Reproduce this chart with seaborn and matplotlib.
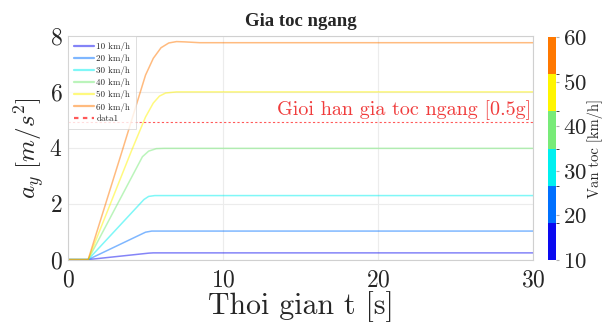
import numpy as np
import pandas as pd
import seaborn as sns
import matplotlib.pyplot as plt
from matplotlib.colors import ListedColormap, BoundaryNorm
from matplotlib.cm import ScalarMappable

# speeds (km/h) and the lateral acceleration traces
speeds = [10, 20, 30, 40, 50, 60]
t_10 = [0, 1.3, 5.2, 5.5, 30]
a_10 = [0, 0, 0.23, 0.24, 0.24]
t_20 = [0, 1.3, 5.0, 5.4, 30]
a_20 = [0, 0, 0.98, 1.02, 1.02]
t_30 = [0, 1.3, 4.9, 5.2, 5.6, 30]
a_30 = [0, 0, 2.15, 2.26, 2.29, 2.29]
t_40 = [0, 1.3, 4.8, 5.2, 5.7, 6.2, 30]
a_40 = [0, 0, 3.68, 3.88, 3.97, 3.98, 3.98]
t_50 = [0, 1.3, 4.1, 5.0, 5.5, 5.9, 6.3, 7.0, 30]
a_50 = [0, 0, 3.9, 5.1, 5.6, 5.85, 5.96, 6.0, 6.0]
t_60 = [0, 1.3, 3.5, 5.0, 5.5, 6.0, 6.5, 7.0, 7.5, 8.5, 30]
a_60 = [0, 0, 3.9, 6.6, 7.2, 7.58, 7.75, 7.8, 7.79, 7.76, 7.76]
limit = 4.905  # 0.5 g

colors = ['#0a0af0', '#0070ff', '#00f0f0', '#78eb78', '#fff500', '#ff7800']

traces = [(t_10, a_10), (t_20, a_20), (t_30, a_30), (t_40, a_40), (t_50, a_50), (t_60, a_60)]
rows = []
for v, (tt, aa) in zip(speeds, traces):
    for t, a in zip(tt, aa):
        rows.append({'t': t, 'a': a, 'speed': f'{v} km/h'})
df = pd.DataFrame(rows)

sns.set_style('white')
plt.rcParams['font.family'] = 'serif'
plt.rcParams['font.serif'] = ['cmr10', 'DejaVu Serif']
plt.rcParams['mathtext.fontset'] = 'cm'
plt.rcParams['axes.formatter.use_mathtext'] = True

fig = plt.figure(figsize=(6.03, 3.29), dpi=100)
ax = fig.add_axes([0.1128, 0.211, 0.7712, 0.6796])

sns.lineplot(data=df, x='t', y='a', hue='speed', palette=colors, alpha=0.5,
             linewidth=1.1, estimator=None, sort=False, ax=ax)
ax.axhline(limit, color='#ff3030', linestyle=(0, (2, 2)), linewidth=0.8,
           alpha=0.8, label='data1')

ax.text(29.9, 5.17, 'Gioi han gia toc ngang [0.5g]', ha='right', va='baseline',
        color='#f03c3c', fontsize=14.5)

ax.set_xlim(0, 30)
ax.set_ylim(0, 8)
ax.set_xticks([0, 10, 20, 30])
ax.set_yticks([0, 2, 4, 6, 8])
ax.grid(True, color='#ececec', linewidth=0.8)
for s in ax.spines.values():
    s.set_color('#d0d0d0')
    s.set_linewidth(0.8)
ax.tick_params(labelsize=17, direction='in', length=3, color='#b0b0b0')
ax.tick_params(axis='x', pad=7)
ax.tick_params(axis='y', pad=4)
ax.set_xlabel('Thoi gian t [s]', fontsize=21.5, labelpad=0)
ax.set_ylabel(r'$a_y\ [m/s^2]$', fontsize=18, labelpad=2)
ax.set_title('Gia toc ngang', fontsize=13.5, fontweight='bold',
             family='Liberation Serif', pad=7)

leg = ax.legend(loc='upper left', fontsize=6.5, frameon=True, handlelength=2.2,
                borderpad=0.35, labelspacing=0.35, handletextpad=0.3,
                borderaxespad=0.3)
leg.get_frame().set_edgecolor('#d0d0d0')
leg.get_frame().set_linewidth(0.6)
leg.get_frame().set_boxstyle('square')
for h in leg.get_lines():
    h.set_linewidth(1.6)

# discrete colorbar for speed
cax = fig.add_axes([0.909, 0.21, 0.0133, 0.677])
cmap = ListedColormap(colors)
norm = BoundaryNorm(np.linspace(10, 60, 7), cmap.N)
cb = fig.colorbar(ScalarMappable(norm=norm, cmap=cmap), cax=cax, ticks=speeds)
cb.outline.set_visible(False)
cb.ax.tick_params(labelsize=16.5, length=2, color='#b0b0b0', pad=3)
cb.set_label('Van toc [km/h]', fontsize=10.5)
cb.ax.yaxis.set_label_coords(4.9, 0.5)

fig.savefig('out.png', dpi=100)
